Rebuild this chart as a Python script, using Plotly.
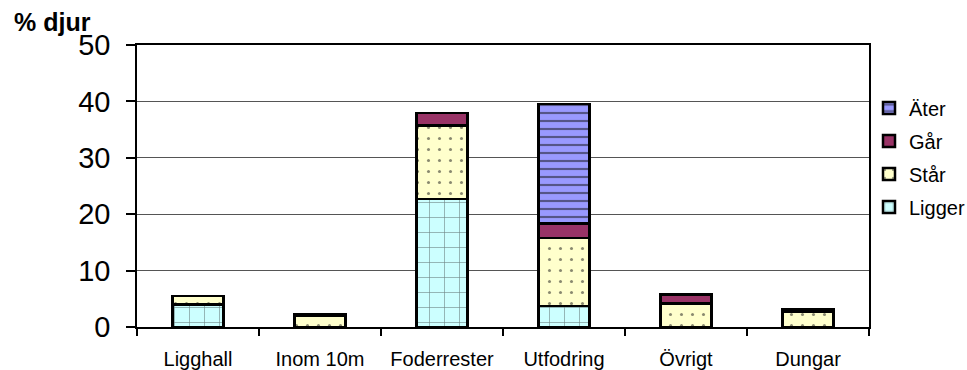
import plotly.graph_objects as go

# Andel djur (%) per plats, uppdelat på aktivitet
categories = ["Ligghall", "Inom 10m", "Foderrester", "Utfodring", "Övrigt", "Dungar"]
ligger = [4.0, 0.0, 22.7, 3.7, 0.0, 0.0]
star = [1.5, 2.0, 13.0, 12.1, 4.15, 2.75]
gar = [0.0, 0.3, 2.2, 2.55, 1.6, 0.45]
ater = [0.0, 0.0, 0.0, 21.15, 0.0, 0.0]

FONT = "Arial, Liberation Sans, sans-serif"
EDGE = dict(color="black", width=2.5)

fig = go.Figure()
fig.add_trace(go.Bar(
    name="Ligger", x=categories, y=ligger, legendgroup="a", legendrank=4,
    marker=dict(color="#CCFFFF", line=EDGE,
                pattern=dict(shape="+", size=15, solidity=0.08,
                             fgcolor="#222222", fgopacity=0.55)),
))
fig.add_trace(go.Bar(
    name="Står", x=categories, y=star, legendgroup="b", legendrank=3,
    marker=dict(color="#FFFFCC", line=EDGE,
                pattern=dict(shape=".", size=11, solidity=0.06,
                             fgcolor="#111111")),
))
fig.add_trace(go.Bar(
    name="Går", x=categories, y=gar, legendgroup="c", legendrank=2,
    marker=dict(color="#993366", line=EDGE),
))
fig.add_trace(go.Bar(
    name="Äter", x=categories, y=ater, legendgroup="d", legendrank=1,
    marker=dict(color="#9999FF", line=EDGE,
                pattern=dict(shape="-", size=8, solidity=0.27,
                             fgcolor="#111111")),
))

fig.update_layout(
    width=967, height=370,
    barmode="stack", bargap=0.58,
    plot_bgcolor="white", paper_bgcolor="white",
    margin=dict(l=137, r=98, t=45, b=43, autoexpand=False),
    font=dict(family=FONT, color="black"),
    showlegend=True,
    legend=dict(
        x=1.0, xanchor="left", y=0.846, yanchor="top",
        traceorder="grouped", tracegroupgap=4,
        font=dict(size=20, family=FONT), bgcolor="rgba(0,0,0,0)",
        itemwidth=30,
    ),
    annotations=[dict(
        text="<b>% djur</b>", xref="paper", yref="paper",
        x=-0.171, y=1.08, xanchor="left", yanchor="middle",
        showarrow=False, font=dict(size=25, family=FONT, color="black"),
    )],
)

fig.update_xaxes(
    showline=True, linecolor="black", linewidth=1.5, mirror=True,
    ticks="outside", ticklen=7, tickcolor="black", tickwidth=1.5,
    tickson="boundaries", tickfont=dict(size=20, family=FONT),
    ticklabelstandoff=13,
)
fig.update_yaxes(
    range=[0, 50], dtick=10,
    showline=True, linecolor="black", linewidth=1.5, mirror=True,
    ticks="outside", ticklen=9, tickcolor="black", tickwidth=1.5,
    showgrid=True, gridcolor="#555555", gridwidth=1.2,
    tickfont=dict(size=29, family=FONT), ticklabelstandoff=10,
    zeroline=False,
)

fig.write_html("out.html")
